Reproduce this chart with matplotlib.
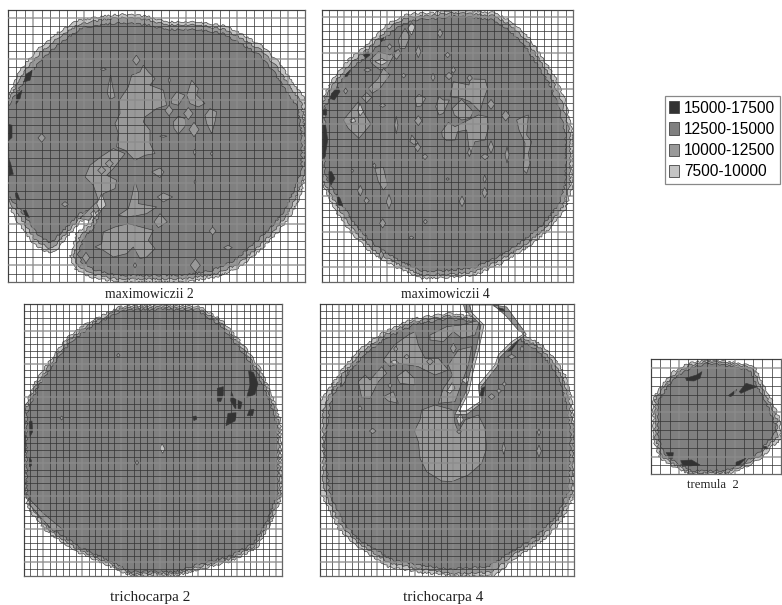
import numpy as np
import matplotlib
matplotlib.use('Agg')
import matplotlib.pyplot as plt
from matplotlib.patches import Polygon, Patch

# colour classes
legend_labels = ['15000-17500', '12500-15000', '10000-12500', '7500-10000']
legend_colors = ['#333333', '#808080', '#999999', '#c4c4c4']
C_DARK, C_MAIN, C_MID, C_LIGHT = legend_colors

# ---- maximowiczii 2 ----
m2_outer = [(370,42),(440,48),(500,65),(590,65),(680,78),(740,110),(790,140),(840,190),(880,250),(915,295),
            (915,530),(900,590),(870,650),(830,700),(780,750),(720,800),(650,830),(560,845),(350,845),(270,830),
            (225,805),(210,770),(230,700),(262,670),(285,635),(240,665),(165,755),(140,755),(100,730),(50,660),
            (24,610),(24,290),(60,210),(110,150),(170,100),(230,62),(310,48)]
m2_mid = [(370,52),(440,58),(500,74),(590,74),(675,88),(733,120),(783,150),(830,200),(870,260),(905,308),
          (915,400),(915,520),(890,585),(860,645),(820,695),(773,742),(713,792),(643,822),(553,836),(350,836),
          (275,820),(234,796),(220,768),(240,705),(272,675),(300,625),(240,652),(160,743),(145,743),(107,720),
          (60,650),(24,598),(24,302),(70,217),(120,159),(178,110),(237,72),(312,58)]
m2_inner = [(370,68),(440,74),(500,88),(590,88),(668,100),(725,132),(775,162),(820,212),(858,272),(893,322),
            (905,400),(905,510),(880,575),(850,635),(810,685),(762,730),(705,780),(636,810),(548,825),(350,825),
            (282,808),(245,785),(234,762),(252,712),(282,682),(305,620),(240,640),(152,728),(116,708),
            (70,640),(24,585),(24,318),(82,228),(132,170),(190,122),(244,84),(316,72)]
m2_patches = [
    [(430,195),(445,215),(465,235),(450,255),(490,270),(500,315),(470,325),(435,350),(430,365),(450,390),(450,430),
     (465,460),(435,465),(405,480),(375,450),(350,440),(355,400),(345,370),(360,340),(358,300),(385,260),(395,225),(420,215)],
    [(255,530),(270,495),(305,468),(340,445),(375,460),(340,505),(320,525),(350,540),(345,565),(310,580),(300,625),
     (265,660),(240,655),(295,600),(280,555)],
    [(405,545),(415,575),(415,610),(470,620),(440,640),(415,645),(380,650),(355,645),(385,625),(395,590)],
    [(310,695),(345,680),(385,670),(460,690),(445,720),(465,745),(440,770),(420,775),(400,740),(380,760),(340,770),
     (310,750),(285,740),(305,730)],
    [(515,295),(530,275),(555,285),(535,315),(515,310)],
    [(560,285),(575,240),(595,265),(590,285),(615,310),(595,320),(570,310)],
    [(520,365),(535,348),(555,355),(558,375),(535,402),(522,385)],
    [(615,345),(630,325),(650,335),(645,365),(635,400),(620,370)],
    [(455,515),(480,503),(492,515),(480,532)],
    [(472,590),(490,578),(518,590),(490,605)],
    [(462,665),(480,640),(502,665),(475,682)],
    [(325,255),(332,225),(340,270),(345,290),(330,298),(322,280)],
]
m2_lights = [[(290,610),(305,580),(318,615),(300,632)], [(272,640),(282,630),(290,645),(282,655)]]
m2_diamonds = [(125,413,11,13),(409,180,11,15),(195,612,10,8),(507,331,12,16),(565,340,14,18),(582,388,15,22),
               (586,795,15,20),(638,692,10,12),(684,742,13,7),(258,772,11,16),(328,490,12,12),(305,510,12,12),
               (310,207,9,4),(405,795,5,8),(508,240,3,9),(584,456,4,9),(635,460,4,6),(585,545,3,6),(490,408,11,3)]
m2_darks = [[(72,245),(78,222),(98,210),(90,240)],[(48,312),(50,285),(66,270),(60,295)],
            [(24,372),(36,375),(36,412),(24,422)],[(24,468),(32,490),(40,522),(24,526)],
            [(46,578),(52,578),(60,600),(48,592)],[(70,630),(78,630),(88,652),(76,645)]]

# ---- maximowiczii 4 ----
m4_outer = [(420,30),(540,38),(590,65),(640,110),(680,170),(720,230),(750,300),(773,400),(773,560),(750,630),
            (700,690),(640,740),(560,790),(480,825),(400,832),(320,835),(240,800),(170,760),(110,700),(60,630),
            (22,550),(22,300),(50,240),(100,180),(150,140),(220,70),(270,45),(300,40),(340,40)]
m4_mid = [(420,38),(535,47),(583,73),(633,119),(673,179),(712,239),(741,307),(765,402),(765,556),(742,623),
          (693,683),(633,732),(555,781),(478,816),(400,823),(322,826),(245,791),(177,751),(117,692),(69,622),
          (22,538),(22,310),(58,247),(108,188),(158,148),(227,79),(276,53),(306,48),(345,47)]
m4_inner = [(420,48),(528,58),(574,84),(624,130),(664,190),(702,250),(730,316),(752,406),(752,550),(731,614),
            (684,674),(624,722),(550,770),(475,804),(400,811),(325,814),(250,780),(186,740),(126,682),(80,612),
            (30,525),(30,320),(68,256),(118,198),(168,158),(236,90),(283,64),(313,59),(350,57)]
m4_patches = [
    [(415,245),(462,255),(465,237),(510,238),(518,265),(505,300),(495,335),(465,305),(440,295),(405,290)],
    [(412,325),(440,298),(475,335),(465,355),(440,360),(418,345)],
    [(380,395),(400,367),(420,380),(460,360),(490,345),(518,350),(520,385),(510,420),(480,425),(465,465),(455,390),
     (428,395),(420,420),(395,422),(382,410)],
    [(362,320),(372,290),(385,300),(403,300),(385,340),(372,345)],
    [(85,360),(130,305),(150,345),(168,372),(132,415),(100,385)],
    [(165,180),(190,155),(225,165),(245,150),(215,205),(195,210),(170,190)],
    [(160,265),(190,235),(205,205),(225,225),(195,265),(172,280)],
    [(140,292),(155,278),(170,292),(155,308)],
    [(180,505),(205,502),(218,555),(205,570),(190,545)],
    [(605,360),(625,350),(640,345),(635,405),(650,425),(640,460),(645,490),(635,520),(625,510),(630,430),(612,390)],
    [(250,120),(270,85),(285,110),(270,145),(255,145)],
    [(232,165),(250,148),(258,160),(245,178)],
    [(300,295),(312,283),(332,295),(318,318),(305,320)],
    [(285,425),(290,405),(310,430),(296,433)],
]
m4_lights = [[(278,85),(290,68),(300,80),(290,105)],[(180,185),(200,175),(218,185),(200,195)],
             [(105,360),(118,355),(122,365),(108,368)],[(128,330),(135,310),(145,335),(135,348)]]
m4_diamonds = [(375,100,8,13),(398,165,8,8),(310,155,8,18),(224,140,7,9),(158,210,11,6),(266,227,7,7),(354,232,6,12),
               (402,228,11,11),(415,210,7,10),(464,234,8,10),(92,273,6,9),(528,313,11,15),(572,347,12,16),(310,362,11,15),
               (244,375,5,26),(203,316,9,6),(308,442,9,13),(330,470,8,9),(510,470,11,9),(528,441,8,19),(463,457,5,13),
               (576,465,6,24),(136,572,8,16),(155,602,8,10),(222,605,8,22),(441,604,8,16),(509,578,8,16),(509,537,5,12),
               (203,670,9,14),(331,665,6,7),(289,713,8,5),(199,765,7,13),(112,512,4,5),(178,497,5,8),(398,537,5,4)]
m4_darks = [[(45,295),(50,280),(70,262),(75,275),(58,300)],[(22,330),(35,328),(35,345),(22,345)],
            [(22,375),(32,375),(38,420),(30,470),(22,478)],[(42,515),(50,515),(60,535),(48,555),(42,540)],
            [(65,582),(75,595),(84,618),(70,615)],[(145,165),(160,155),(165,165),(152,175)],
            [(85,232),(105,210),(98,228)],[(195,118),(208,112),(200,125)]]

# ---- trichocarpa 2 ----
t2_outer = [(330,35),(470,30),(570,35),(640,80),(700,150),(750,220),(790,310),(812,380),(817,600),(780,690),(740,760),
            (660,800),(560,825),(500,842),(360,842),(280,805),(200,770),(110,710),(60,650),(42,590),(42,350),(70,270),
            (110,210),(170,130),(230,85),(280,60)]
t2_mid = [(332,40),(470,36),(567,41),(636,86),(695,156),(745,226),(784,314),(806,382),(811,598),(774,686),(735,753),
          (657,793),(557,818),(498,836),(362,836),(284,799),(204,763),(115,704),(67,644),(44,586),(44,352),(76,274),
          (116,215),(175,136),(235,91),(284,66)]
t2_inner = [(336,46),(470,42),(563,47),(632,92),(690,162),(740,232),(778,318),(800,386),(804,596),(768,682),(730,746),
            (654,786),(554,811),(496,830),(364,830),(288,793),(208,755),(120,698),(56,610),(50,584),(50,356),(82,278),
            (122,220),(180,142),(240,97),(288,72)]
t2_mid_patches = [[(56,610),(100,655),(160,705),(130,708),(90,665),(60,630)]]
t2_patches = [[(450,460),(456,445),(465,462),(458,475)]]
t2_diamonds = [(325,181,5,6),(155,369,5,6),(381,503,5,7)]
t2_darks = [[(716,228),(730,232),(744,265),(735,298),(710,308),(720,270)],
            [(664,290),(672,310),(696,322),(692,342),(675,340),(662,318)],
            [(622,280),(640,275),(640,300),(632,320),(622,318)],
            [(654,355),(682,353),(675,378),(648,392)],
            [(718,345),(732,343),(728,362),(712,362)],
            [(58,380),(66,378),(68,410),(60,425)],[(58,490),(64,495),(64,512),(58,515)],
            [(548,365),(558,363),(561,372),(552,377)],[(42,420),(46,420),(46,470),(42,470)]]

# ---- trichocarpa 4 ----
t4_outer = [(14,320),(40,285),(80,225),(130,165),(200,115),(290,72),(400,55),(505,68),(560,110),(625,118),(680,150),
            (720,190),(750,240),(770,310),(778,400),(778,600),(740,680),(680,740),(600,790),(540,842),(410,842),(300,830),
            (220,815),(120,750),(70,700),(30,620),(14,590)]
t4_mid = [(24,345),(48,292),(88,232),(138,172),(206,122),(294,80),(402,63),(500,75),(560,118),(620,126),(673,157),
          (712,197),(742,246),(761,314),(778,410),(770,595),(732,672),(672,732),(592,782),(530,832),(410,836),(305,820),
          (226,805),(126,742),(78,692),(38,612),(24,570)]
t4_inner = [(46,325),(56,300),(96,240),(146,180),(212,130),(298,88),(404,71),(495,82),(560,125),(615,134),(665,165),
            (704,205),(733,252),(752,318),(768,420),(760,590),(724,664),(664,724),(584,774),(520,815),(400,822),(310,810),
            (232,795),(132,734),(86,684),(46,604),(28,470),(30,430)]
t4_band = [(452,28),(538,28),(582,50),(634,118),(596,146),(556,186),(546,215),(498,276),(501,323),(456,358),(420,358),
           (453,290),(463,240),(484,160),(498,90),(458,52)]
t4_white = [(465,30),(530,30),(575,52),(625,118),(590,140),(550,180),(540,210),(490,270),(495,320),(450,350),(432,350),
            (462,290),(472,240),(492,160),(507,90),(467,50)]
t4_strips = [[(535,30),(575,36),(630,112),(612,108),(572,62)],[(445,28),(462,28),(470,50),(452,52)]]
t4_patches = [
    [(320,345),(360,330),(415,345),(420,385),(430,410),(450,375),(490,360),(510,400),(515,460),(500,505),(460,540),
     (410,560),(380,558),(335,530),(315,490),(310,440),(298,408),(315,375)],
    [(345,120),(395,95),(440,90),(495,75),(480,120),(440,130),(415,110),(385,140),(345,135)],
    [(400,210),(430,165),(470,155),(460,210),(440,265),(420,320),(370,325),(385,280),(412,240)],
    [(130,260),(150,240),(165,255),(200,215),(215,235),(190,260),(165,310),(140,308)],
    [(205,195),(238,150),(280,120),(300,110),(310,150),(330,190),(370,190),(400,225),(360,240),(310,215),(250,205),(225,215)],
    [(245,245),(272,225),(298,250),(300,270),(255,265)],
    [(205,305),(235,290),(250,325),(220,318)],
    [(80,235),(100,225),(90,260),(80,275)],
]
t4_lights = [[(425,370),(438,355),(445,375),(432,392)],[(395,290),(412,262),(420,280),(405,295)],
             [(440,255),(455,245),(465,255),(452,265)],[(228,200),(240,195),(252,205),(238,210)]]
t4_diamonds = [(135,340,6,8),(173,408,10,8),(225,272,6,7),(552,288,7,7),(530,305,10,9),(568,267,6,7),(590,185,12,7),
               (621,162,6,10),(566,460,5,18),(672,412,5,10),(672,468,7,18),(275,185,8,7),(242,162,6,9),(345,200,10,10),
               (415,160,9,15),(432,410,7,6)]
t4_darks = [[(495,300),(500,280),(510,275),(503,310)],[(578,170),(600,145),(612,135),(590,165)],
            [(550,38),(565,42),(570,48),(555,46)]]

# ---- tremula 2 ----
tr_outer = [(205,30),(300,40),(345,50),(365,95),(395,150),(420,210),(422,270),(395,290),(370,320),(320,350),(260,373),
            (150,373),(100,350),(60,325),(40,270),(40,145),(70,100),(100,65),(145,40)]
tr_mid = [(205,34),(298,45),(340,56),(358,100),(388,155),(412,212),(412,262),(388,284),(364,314),(316,344),(258,368),
          (152,368),(103,344),(65,319),(46,266),(46,149),(76,105),(106,71),(149,46)]
tr_inner = [(205,40),(295,52),(332,64),(350,106),(380,160),(408,230),(402,256),(380,278),(358,308),(312,338),(256,362),
            (155,362),(108,338),(72,312),(54,262),(54,155),(82,112),(112,78),(154,53)]
tr_darks = [[(137,85),(170,75),(186,65),(180,85),(162,93),(140,92)],[(298,125),(318,100),(352,110),(325,120),(303,130)],
            [(265,137),(290,118),(285,130),(272,140)],[(78,308),(100,308),(98,325),(88,322)],
            [(122,332),(155,330),(180,345),(150,348),(128,345)],[(285,338),(318,325),(298,345),(285,348)],
            [(370,288),(378,288),(378,295),(372,295)]]


def add_polys(ax, polys, color, lw=0.45, z=3, jag=False):
    for p in polys:
        patch = Polygon(p, closed=True, facecolor=color, edgecolor='#3a3a3a', linewidth=lw, zorder=z)
        if jag:
            # the rings have a stepped edge in the original
            patch.set_sketch_params(scale=0.9, length=10, randomness=5)
        ax.add_patch(patch)


def add_diamonds(ax, diamonds, color):
    for x, y, rx, ry in diamonds:
        pts = [(x, y - ry), (x + rx, y), (x, y + ry), (x - rx, y)]
        add_polys(ax, [pts], color)


def make_panel(box, xlim, ylim, cols, rows, rings):
    # box is left, top, right, bottom of the grid on the picture
    left, top, right, bottom = box
    ax = fig.add_axes([left / W, 1 - bottom / H, (right - left) / W, (bottom - top) / H])
    ax.set_xlim(*xlim)
    ax.set_ylim(*ylim)
    ax.set_xticks(np.linspace(xlim[0], xlim[1], cols + 1))
    ax.set_yticks(np.linspace(ylim[0], ylim[1], rows + 1))
    ax.tick_params(length=0, labelbottom=False, labelleft=False)
    ax.grid(True, color='#333333', linewidth=0.6, alpha=0.85)
    ax.set_axisbelow(False)
    # every few lines comes out paler and wider in the scan
    for i, gl in enumerate(ax.get_ygridlines()):
        if i % 5 == 2:
            gl.set_color('#8c8c8c')
            gl.set_linewidth(1.1)
    for i, gl in enumerate(ax.get_xgridlines()):
        if i % 6 == 3:
            gl.set_color('#8c8c8c')
            gl.set_linewidth(1.1)
    for s in ax.spines.values():
        s.set_color('#666666')
        s.set_linewidth(0.9)
    for ring, c in zip(rings, [C_LIGHT, C_MID, C_MAIN]):
        add_polys(ax, [ring], c, z=1.2, jag=True)
    return ax


W, H = 782, 605
fig = plt.figure(figsize=(W / 100, H / 100), dpi=100, facecolor='white')

ax1 = make_panel((8, 9.5, 305, 282), (24, 915), (845, 28), 35, 33, [m2_outer, m2_mid, m2_inner])
add_polys(ax1, m2_patches, C_MID, z=1.5)
add_polys(ax1, m2_lights, C_LIGHT, z=1.6)
add_diamonds(ax1, m2_diamonds, C_MID)
add_polys(ax1, m2_darks, C_DARK, z=1.7)

ax2 = make_panel((322.3, 10, 572.7, 281.7), (22, 773), (845, 30), 35, 38, [m4_outer, m4_mid, m4_inner])
add_polys(ax2, m4_patches, C_MID, z=1.5)
add_polys(ax2, m4_lights, C_LIGHT, z=1.6)
add_diamonds(ax2, m4_diamonds, C_MID)
add_polys(ax2, m4_darks, C_DARK, z=1.7)

ax3 = make_panel((24, 304.3, 282.3, 575.7), (42, 817), (842, 28), 40, 41, [t2_outer, t2_mid, t2_inner])
add_polys(ax3, t2_mid_patches, C_MID, z=1.5)
add_polys(ax3, t2_patches, C_LIGHT, z=1.5)
add_diamonds(ax3, t2_diamonds, C_MID)
add_polys(ax3, t2_darks, C_DARK, z=1.7)

ax4 = make_panel((319.7, 304.3, 574.3, 575.7), (14, 778), (842, 28), 40, 41, [t4_outer, t4_mid, t4_inner])
add_polys(ax4, t4_patches, C_MID, z=1.5)
add_polys(ax4, t4_lights, C_LIGHT, z=1.6)
add_diamonds(ax4, t4_diamonds, C_MID)
add_polys(ax4, [t4_band], C_LIGHT, z=1.75)
add_polys(ax4, [t4_white], 'white', z=1.8)
add_polys(ax4, t4_strips, C_MID, z=1.9)
add_polys(ax4, t4_darks, C_DARK, z=2)

ax5 = make_panel((651, 359.3, 781, 474.3), (33, 423), (373, 28), 14, 13, [tr_outer, tr_mid, tr_inner])
add_polys(ax5, tr_darks, C_DARK, z=1.7)

# panel names
names = ['maximowiczii 2', 'maximowiczii 4', 'trichocarpa 2', 'trichocarpa 4', 'tremula  2']
name_x = [149, 445, 150, 443, 713]
name_y = [295, 294, 597, 597, 485]
name_size = [9.8, 9.8, 11, 11, 9.2]
for n, x, y, fs in zip(names, name_x, name_y, name_size):
    fig.text(x / W, 1 - y / H, n, family='Liberation Serif', fontsize=fs, color='#222222', ha='center', va='center')

handles = [Patch(facecolor=c, edgecolor='#444444', linewidth=0.6, label=l) for c, l in zip(legend_colors, legend_labels)]
leg = fig.legend(handles=handles, loc='upper left', bbox_to_anchor=(664.5 / W, 1 - 96 / H), borderaxespad=0,
                 prop={'family': 'Liberation Sans', 'size': 11.2}, fancybox=False, edgecolor='#888888', framealpha=1,
                 handlelength=0.65, handleheight=0.85, handletextpad=0.3, labelspacing=0.4, borderpad=0.3)
leg.get_frame().set_linewidth(0.9)

plt.savefig('out.png', dpi=100)
